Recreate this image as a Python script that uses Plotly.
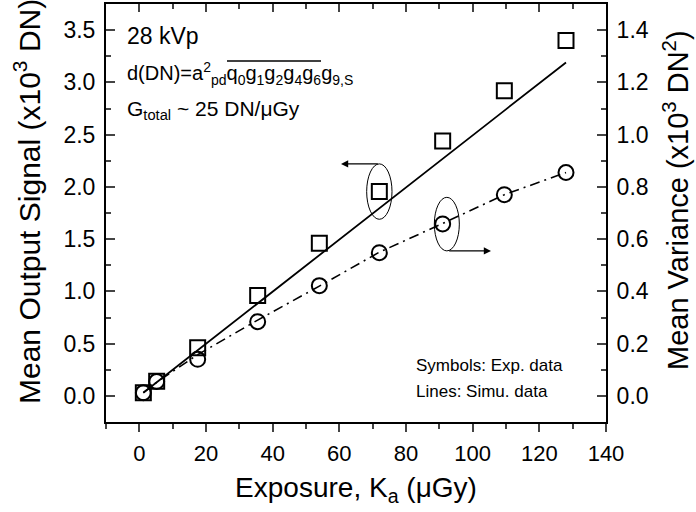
import plotly.graph_objects as go

# ---- data ----
exposure = [1.2, 5.2, 17.5, 35.5, 54, 72, 91, 109.5, 128]
signal_exp = [0.03, 0.14, 0.46, 0.96, 1.46, 1.955, 2.44, 2.92, 3.40]
signal_sim = [0.03, 0.13, 0.44, 0.89, 1.35, 1.80, 2.27, 2.73, 3.19]
variance_exp = [0.012, 0.055, 0.14, 0.284, 0.422, 0.548, 0.658, 0.77, 0.855]
variance_sim = [0.012, 0.052, 0.158, 0.29, 0.42, 0.55, 0.66, 0.77, 0.855]
x_ticks = [0, 20, 40, 60, 80, 100, 120, 140]
y_ticks = [0.0, 0.5, 1.0, 1.5, 2.0, 2.5, 3.0, 3.5]
y2_ticks = [0.0, 0.2, 0.4, 0.6, 0.8, 1.0, 1.2, 1.4]

FONT = "Liberation Sans, Arial, sans-serif"
W, H = 696, 512
ML, MR, MT, MB = 106, 90, 4, 90

fig = go.Figure()
fig.add_trace(go.Scatter(x=exposure, y=signal_sim, mode="lines",
                         line=dict(color="black", width=1.8), showlegend=False))
fig.add_trace(go.Scatter(x=exposure, y=signal_exp, mode="markers",
                         marker=dict(symbol="square-open", size=15, color="black",
                                     line=dict(width=2)), showlegend=False))
fig.add_trace(go.Scatter(x=exposure, y=variance_sim, mode="lines", yaxis="y2",
                         line=dict(color="black", width=1.6, dash="10px,5px,2px,5px"),
                         showlegend=False))
fig.add_trace(go.Scatter(x=exposure, y=variance_exp, mode="markers", yaxis="y2",
                         marker=dict(symbol="circle-open", size=15, color="black",
                                     line=dict(width=2)), showlegend=False))
# dummy trace for top axis
fig.add_trace(go.Scatter(x=[None], y=[None], xaxis="x2", showlegend=False))

tickfont = dict(family=FONT, size=22, color="black")
ytickfont = dict(family=FONT, size=23, color="black")
titlefont = dict(family=FONT, size=28, color="black")

fig.update_layout(
    width=W, height=H,
    margin=dict(l=ML, r=MR, t=MT, b=MB),
    paper_bgcolor="white", plot_bgcolor="white",
    font=dict(family=FONT, color="black"),
    xaxis=dict(range=[-10, 140], tickvals=x_ticks, ticks="outside", ticklen=8,
               tickwidth=2, showline=True, linewidth=2, linecolor="black",
               showgrid=False, zeroline=False, tickfont=tickfont,
               ticklabelstandoff=3,
               minor=dict(ticks="outside", dtick=10, ticklen=5, tickwidth=2),
               title=dict(text="Exposure, K<sub>a</sub> (μGy)", font=titlefont, standoff=12)),
    xaxis2=dict(range=[-10, 140], overlaying="x", side="top", tickvals=x_ticks,
                ticks="inside", ticklen=8, tickwidth=2, showticklabels=False,
                showline=True, linewidth=2, linecolor="black", showgrid=False,
                zeroline=False,
                minor=dict(ticks="inside", dtick=10, ticklen=5, tickwidth=2)),
    yaxis=dict(range=[-0.25, 3.75], tickvals=y_ticks, tickformat=".1f",
               ticks="inside", ticklen=9, tickwidth=2, showline=True, linewidth=2,
               linecolor="black", showgrid=False, zeroline=False, tickfont=ytickfont,
               ticklabelstandoff=4,
               minor=dict(ticks="inside", dtick=0.25, ticklen=5, tickwidth=2)),
    yaxis2=dict(range=[-0.1, 1.5], overlaying="y", side="right", tickvals=y2_ticks,
                tickformat=".1f", ticks="inside", ticklen=9, tickwidth=2,
                showline=True, linewidth=2, linecolor="black", showgrid=False,
                zeroline=False, tickfont=ytickfont, ticklabelstandoff=4,
                minor=dict(ticks="inside", dtick=0.1, ticklen=5, tickwidth=2)),
)

def px2paper(px, py):
    return (px - ML) / (W - ML - MR), (H - MB - py) / (H - MT - MB)

# y-axis titles
tx, ty = px2paper(27, 202)
fig.add_annotation(xref="paper", yref="paper", x=tx, y=ty, xanchor="center",
                   yanchor="middle", textangle=-90, showarrow=False,
                   text="Mean Output Signal (x10<sup>3</sup> DN)",
                   font=dict(family=FONT, size=30, color="black"))
tx, ty = px2paper(676, 200)
fig.add_annotation(xref="paper", yref="paper", x=tx, y=ty, xanchor="center",
                   yanchor="middle", textangle=-90, showarrow=False,
                   text="Mean Variance (x10<sup>3</sup> DN<sup>2</sup>)",
                   font=dict(family=FONT, size=29, color="black"))

annfont = dict(family=FONT, size=23, color="black")
fx, fy = px2paper(125, 36)
fig.add_annotation(xref="paper", yref="paper", x=fx, y=fy, xanchor="left",
                   yanchor="middle", text="28 kVp", showarrow=False, font=annfont)
fx, fy = px2paper(125, 73)
fig.add_annotation(xref="paper", yref="paper", x=fx, y=fy, xanchor="left",
                   yanchor="middle",
                   text="d(DN)=a<sup>2</sup><sub>pd</sub>q<sub>0</sub>g<sub>1</sub>g<sub>2</sub>g<sub>4</sub>g<sub>6</sub>g<sub>9,S</sub>",
                   showarrow=False, font=dict(family=FONT, size=20, color="black"))
fx, fy = px2paper(125, 110)
fig.add_annotation(xref="paper", yref="paper", x=fx, y=fy, xanchor="left",
                   yanchor="middle", text="G<sub>total</sub> ~ 25 DN/μGy",
                   showarrow=False, font=dict(family=FONT, size=21, color="black"))
fx, fy = px2paper(414, 365)
fig.add_annotation(xref="paper", yref="paper", x=fx, y=fy, xanchor="left",
                   yanchor="middle", text="Symbols: Exp. data", showarrow=False,
                   font=dict(family=FONT, size=17, color="black"))
fx, fy = px2paper(414, 391)
fig.add_annotation(xref="paper", yref="paper", x=fx, y=fy, xanchor="left",
                   yanchor="middle", text="Lines: Simu. data", showarrow=False,
                   font=dict(family=FONT, size=17, color="black"))

# overline over q0g1g2g4g6
x0, yy = px2paper(227, 61)
x1, _ = px2paper(321, 61)
fig.add_shape(type="line", xref="paper", yref="paper", x0=x0, x1=x1, y0=yy, y1=yy,
              line=dict(color="black", width=1.5))

# ellipses and arrows
fig.add_shape(type="circle", xref="x", yref="y", x0=68.2, x1=75.8, y0=1.69, y1=2.22,
              line=dict(color="black", width=1))
fig.add_annotation(xref="x", yref="y", axref="x", ayref="y", x=60.5, y=2.22,
                   ax=72, ay=2.22, showarrow=True, arrowhead=2, arrowsize=1.2,
                   arrowwidth=1.2, arrowcolor="black", text="")
fig.add_shape(type="circle", xref="x", yref="y2", x0=88.5, x1=96.0, y0=0.555, y1=0.76,
              line=dict(color="black", width=1))
fig.add_annotation(xref="x", yref="y2", axref="x", ayref="y2", x=105.5, y=0.555,
                   ax=92.5, ay=0.555, showarrow=True, arrowhead=2, arrowsize=1.2,
                   arrowwidth=1.2, arrowcolor="black", text="")

fig.write_html("out.html")
